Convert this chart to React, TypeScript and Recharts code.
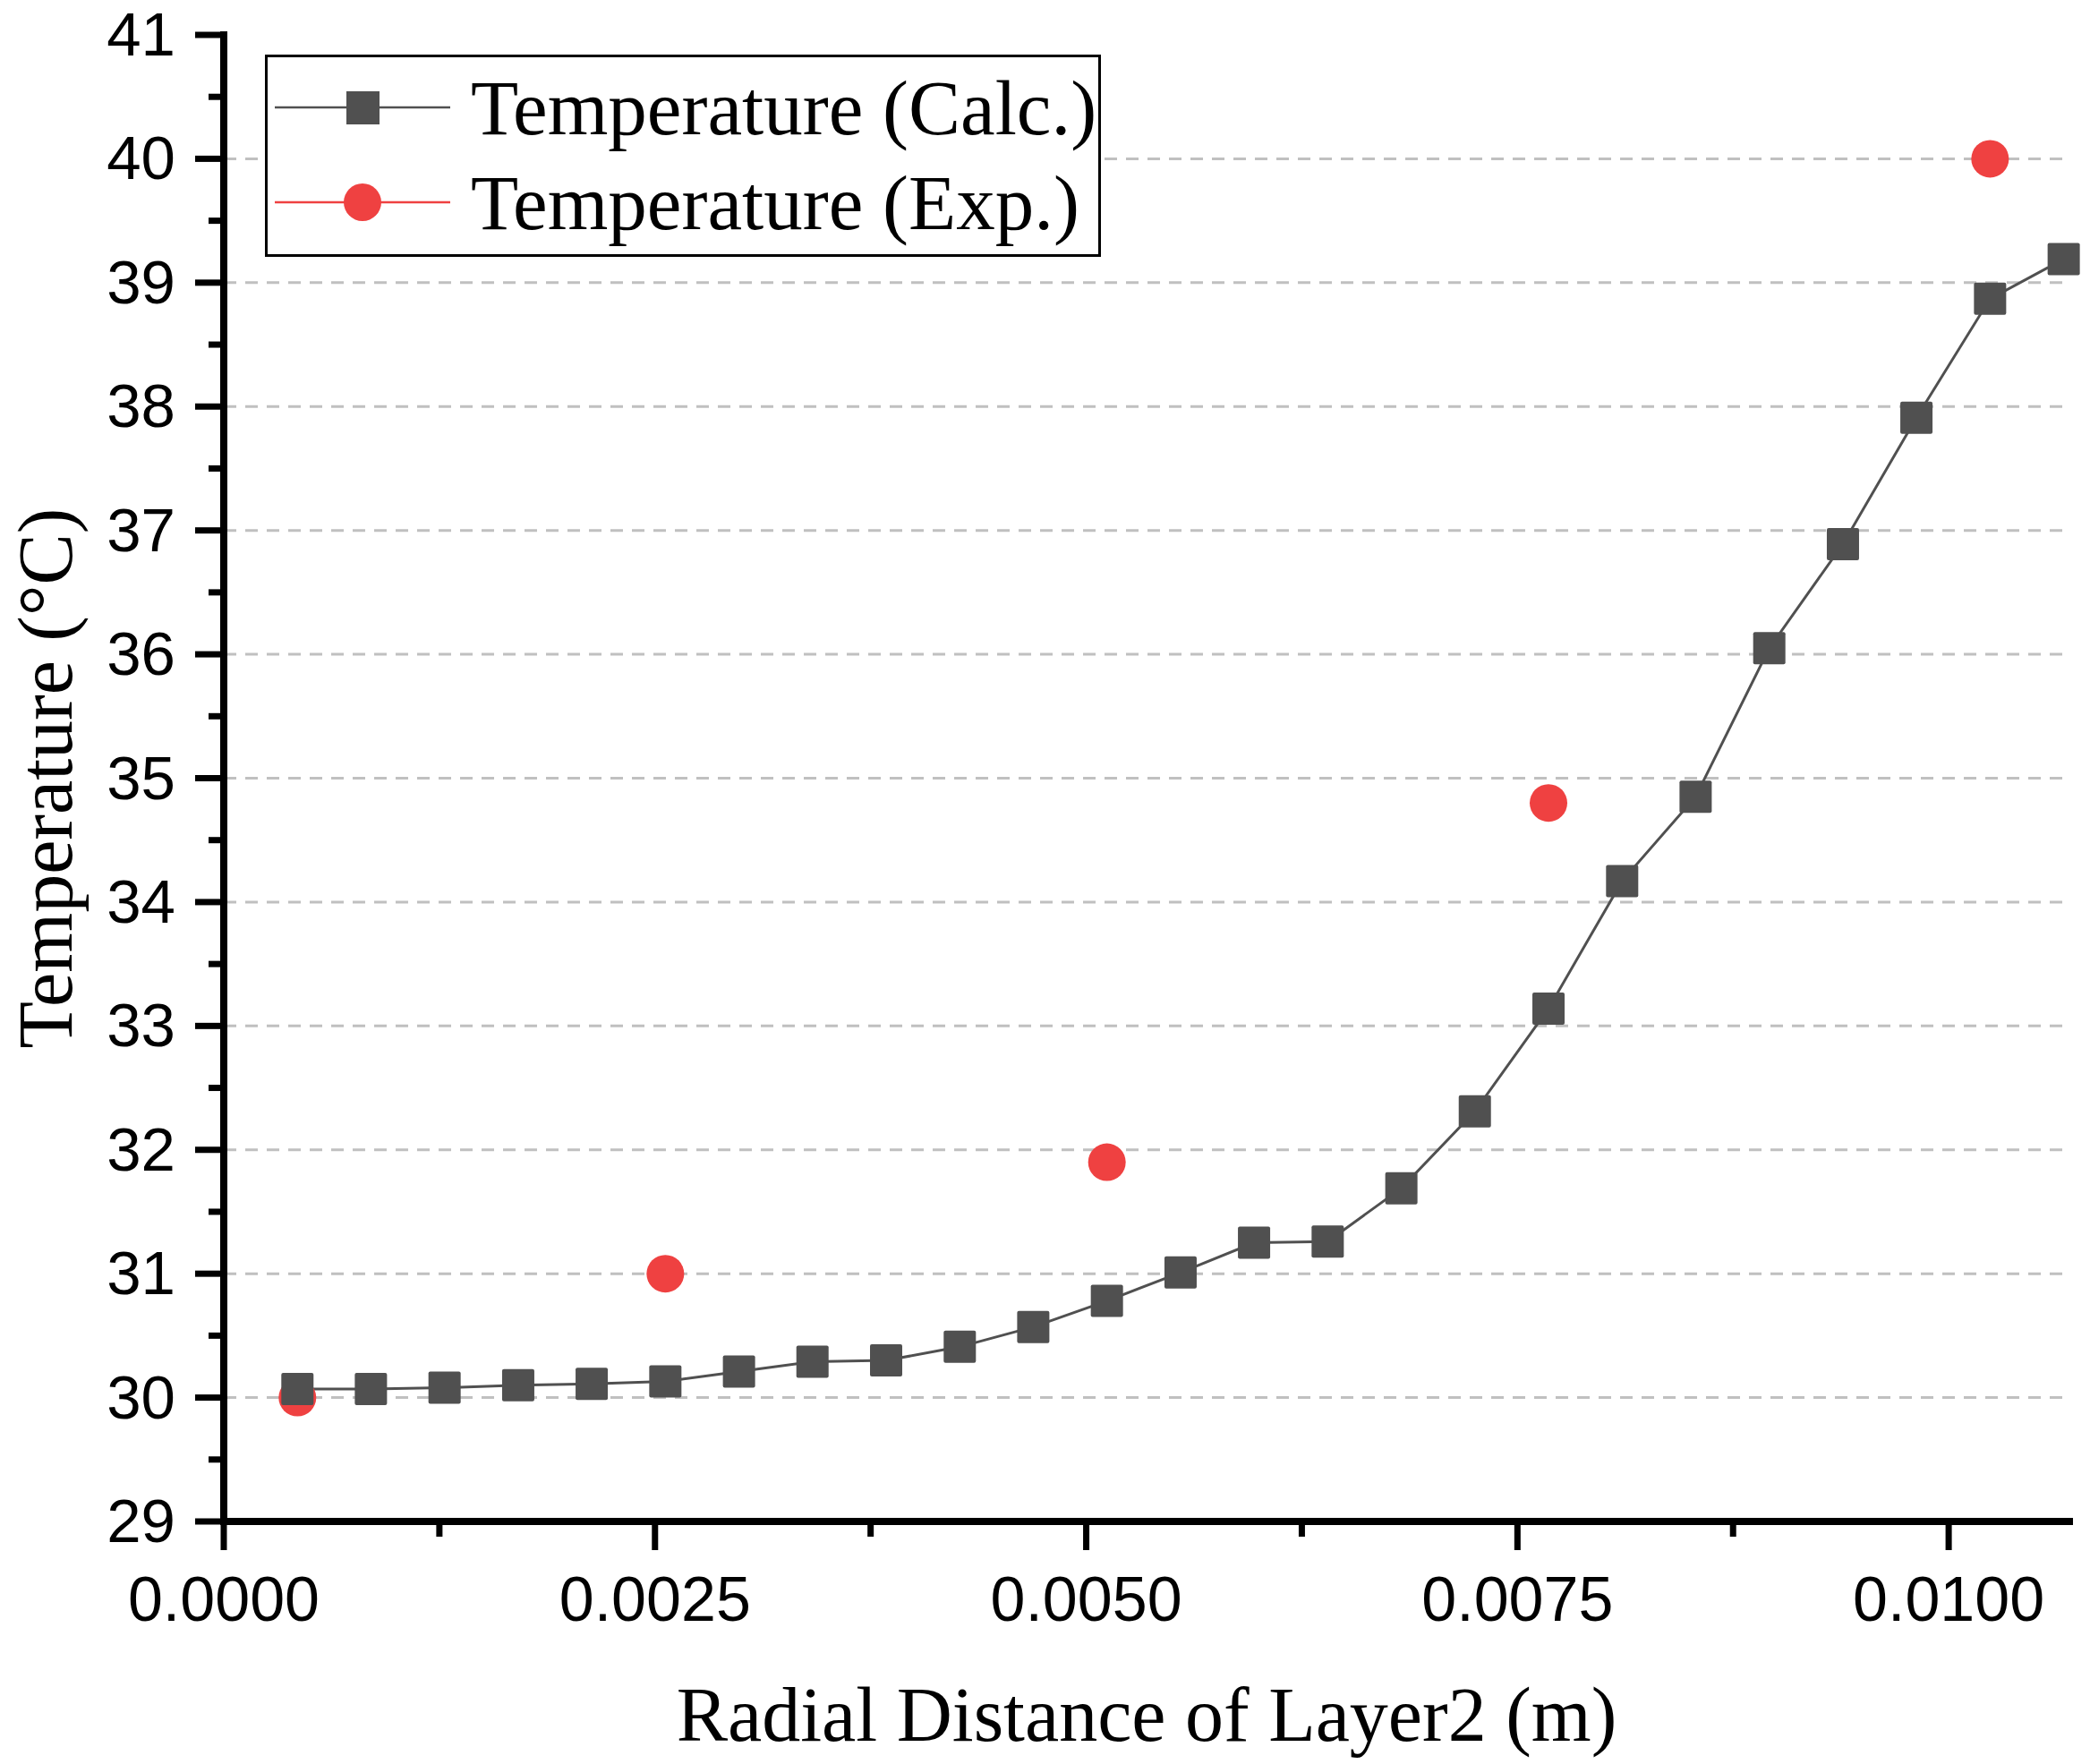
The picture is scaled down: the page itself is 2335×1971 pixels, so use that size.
import React from 'react'
import {
  ComposedChart,
  Line,
  Scatter,
  XAxis,
  YAxis,
  CartesianGrid,
  Legend,
} from 'recharts'

// radial positions (m) of the calculated points
const calcX = [
  0.000427, 0.000853, 0.00128, 0.001707, 0.002133, 0.00256, 0.002987, 0.003413,
  0.00384, 0.004267, 0.004693, 0.00512, 0.005547, 0.005973, 0.0064, 0.006827,
  0.007253, 0.00768, 0.008107, 0.008533, 0.00896, 0.009387, 0.009813, 0.01024,
  0.010667,
]
const calcTemp = [
  30.07, 30.07, 30.08, 30.1, 30.11, 30.13, 30.21, 30.29, 30.3, 30.41, 30.57,
  30.78, 31.01, 31.25, 31.26, 31.69, 32.31, 33.14, 34.17, 34.85, 36.05, 36.89,
  37.91, 38.87, 39.19,
]

// measured points
const expX = [0.000427, 0.00256, 0.00512, 0.00768, 0.01024]
const expTemp = [30.0, 31.0, 31.9, 34.8, 40.0]

const xMajorTicks = [0, 0.0025, 0.005, 0.0075, 0.01]
const xMinorTicks = [0.00125, 0.00375, 0.00625, 0.00875]
const yMajorTicks = [29, 30, 31, 32, 33, 34, 35, 36, 37, 38, 39, 40, 41]
const yMinorTicks = [29.5, 30.5, 31.5, 32.5, 33.5, 34.5, 35.5, 36.5, 37.5, 38.5, 39.5, 40.5]
const gridValues = [30, 31, 32, 33, 34, 35, 36, 37, 38, 39, 40]

const calcRows = calcX.map((x, i) => ({ x, t: calcTemp[i] }))
const expRows = expX.map((x, i) => ({ x, t: expTemp[i] }))

const GRAY = '#505050'
const RED = '#EF4141'
const SERIF = "'Liberation Serif', 'Times New Roman', serif"
const SANS = "'Liberation Sans', Arial, sans-serif"

const isMajor = (v: number, step: number) => Math.abs(v / step - Math.round(v / step)) < 1e-6

const XTick = (props: any) => {
  const { x, y, payload } = props
  const major = isMajor(payload.value, 0.0025)
  return (
    <g>
      <line x1={x} x2={x} y1={y} y2={y + (major ? 32 : 17)} stroke="#000" strokeWidth={7} />
      {major && (
        <text x={x} y={y + 111} textAnchor="middle" fontFamily={SANS} fontSize={70} fill="#000">
          {payload.value.toFixed(4)}
        </text>
      )}
    </g>
  )
}

const YTick = (props: any) => {
  const { x, y, payload } = props
  const major = isMajor(payload.value, 1)
  return (
    <g>
      <line x1={x} x2={x - (major ? 32 : 17)} y1={y} y2={y} stroke="#000" strokeWidth={7} />
      {major && (
        <text x={x - 54} y={y + 23} textAnchor="end" fontFamily={SANS} fontSize={69} fill="#000">
          {payload.value}
        </text>
      )}
    </g>
  )
}

const SquareDot = (props: any) => {
  const { cx, cy, index } = props
  if (cx == null || cy == null) return <g key={index} />
  return <rect key={index} x={cx - 18} y={cy - 18} width={36} height={36} rx={2} fill={GRAY} />
}

const CircleDot = (props: any) => {
  const { cx, cy } = props
  return <circle cx={cx} cy={cy} r={21} fill={RED} />
}

const legendItems = [
  { name: 'Temperature (Calc.)', color: GRAY, shape: 'square' },
  { name: 'Temperature (Exp.)', color: RED, shape: 'circle' },
]

const LegendBox = () => (
  <svg width={934} height={226} style={{ display: 'block' }}>
    <rect x={1.5} y={1.5} width={931} height={223} fill="#fff" stroke="#000" strokeWidth={3} />
    {legendItems.map((item, i) => {
      const cy = 59 + i * 106
      return (
        <g key={item.name}>
          <line x1={11} x2={207} y1={cy} y2={cy} stroke={item.color} strokeWidth={2.5} />
          {item.shape === 'square' ? (
            <rect x={109 - 18} y={cy - 18} width={37} height={37} fill={item.color} />
          ) : (
            <circle cx={109} cy={cy} r={21} fill={item.color} />
          )}
          <text x={230} y={cy + 30} fontFamily={SERIF} fontSize={87} fill="#000">
            {item.name}
          </text>
        </g>
      )
    })}
  </svg>
)

export default function App() {
  const axisLine = { stroke: '#000', strokeWidth: 8, strokeLinecap: 'square' as const }
  return (
    <div style={{ position: 'absolute', left: 0, top: 0, background: '#fff' }}>
      <ComposedChart
        width={2335}
        height={1971}
        data={calcRows}
        margin={{ top: 39, right: 23, bottom: 0, left: 0 }}
      >
        <CartesianGrid
          vertical={false}
          horizontalValues={gridValues}
          stroke="#c0c0c0"
          strokeWidth={3}
          strokeDasharray="14 10"
        />
        <XAxis
          dataKey="x"
          type="number"
          domain={[0, 0.0107]}
          ticks={[...xMajorTicks, ...xMinorTicks].sort((a, b) => a - b)}
          interval={0}
          height={271}
          tickSize={0}
          tickMargin={0}
          tickLine={false}
          axisLine={axisLine}
          tick={<XTick />}
          label={{
            content: ({ viewBox }: any) => (
              <text
                x={viewBox.x + viewBox.width / 2}
                y={viewBox.y + 245}
                textAnchor="middle"
                fontFamily={SERIF}
                fontSize={86}
                fill="#000"
              >
                Radial Distance of Layer2 (m)
              </text>
            ),
          }}
        />
        <XAxis
          xAxisId="top"
          orientation="top"
          type="number"
          domain={[0, 0.0107]}
          height={0}
          tick={false}
          tickLine={false}
          axisLine={axisLine}
        />
        <YAxis
          dataKey="t"
          type="number"
          domain={[29, 41]}
          ticks={[...yMajorTicks, ...yMinorTicks].sort((a, b) => a - b)}
          interval={0}
          width={250}
          tickSize={0}
          tickMargin={0}
          tickLine={false}
          axisLine={axisLine}
          tick={<YTick />}
          label={{
            content: ({ viewBox }: any) => {
              const cx = viewBox.x + 80
              const cy = viewBox.y + viewBox.height / 2
              return (
                <text
                  transform={`translate(${cx},${cy}) rotate(-90)`}
                  textAnchor="middle"
                  fontFamily={SERIF}
                  fontSize={86}
                  fill="#000"
                >
                  Temperature (°C)
                </text>
              )
            },
          }}
        />
        <YAxis
          yAxisId="right"
          orientation="right"
          type="number"
          domain={[29, 41]}
          width={0}
          tick={false}
          tickLine={false}
          axisLine={axisLine}
        />
        <Legend
          layout="vertical"
          align="center"
          verticalAlign="middle"
          content={<LegendBox />}
          wrapperStyle={{ left: 296, top: 61, width: 934, height: 226 }}
        />
        <Line
          type="linear"
          dataKey="t"
          stroke={GRAY}
          strokeWidth={3}
          dot={<SquareDot />}
          activeDot={false}
          isAnimationActive={false}
        />
        <Scatter
          data={expRows}
          dataKey="t"
          fill={RED}
          shape={<CircleDot />}
          isAnimationActive={false}
        />
      </ComposedChart>
    </div>
  )
}
